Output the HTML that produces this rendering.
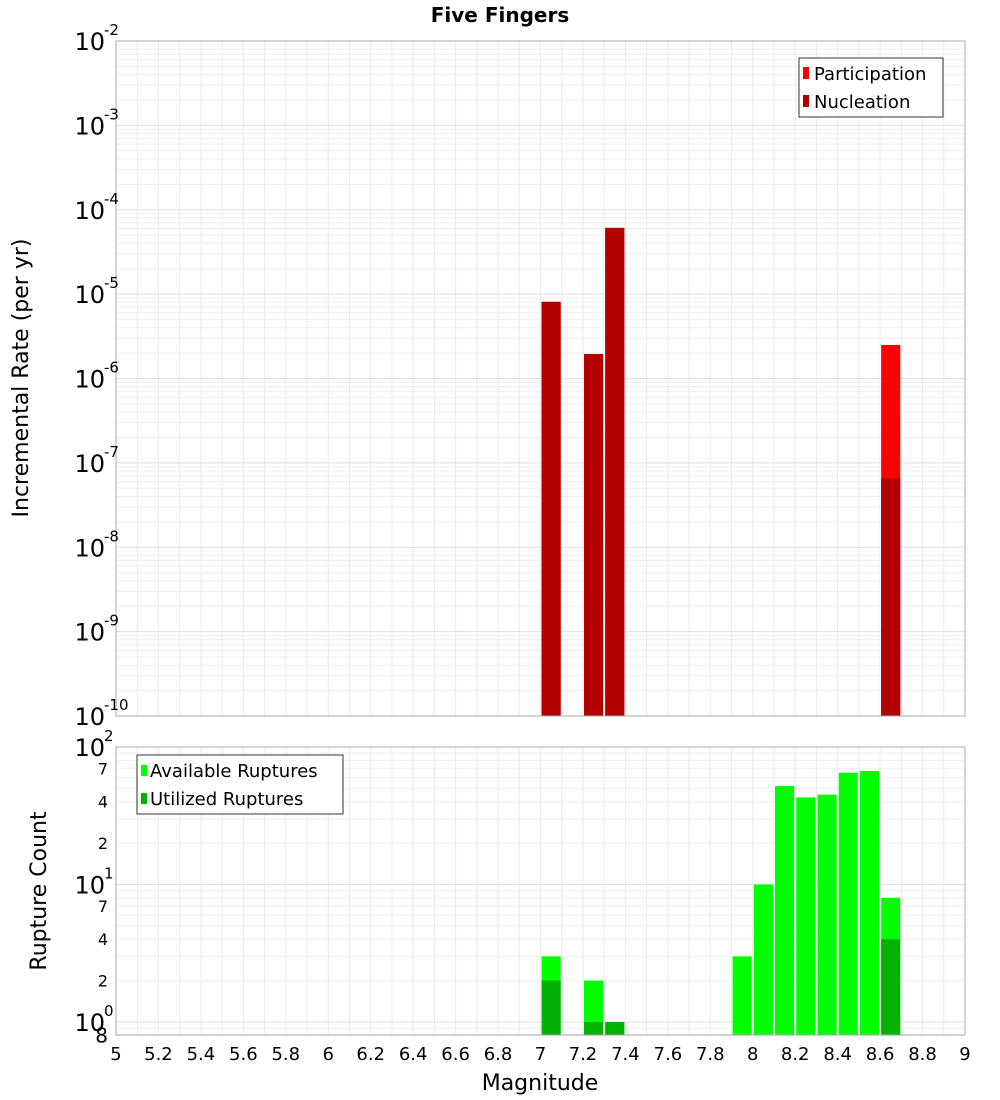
<!DOCTYPE html>
<html><head><meta charset="utf-8"><style>
body{margin:0;background:#fff;}
svg{display:block;font-family:"DejaVu Sans","Liberation Sans",sans-serif;}
</style></head><body>
<svg id="chart" width="1000" height="1100">
<text x="500" y="22" text-anchor="middle" font-size="20" font-weight="bold">Five Fingers</text>
<g id="grid"></g><g id="bars"></g><g id="axes"></g>
<text transform="translate(28,378) rotate(-90)" text-anchor="middle" font-size="22">Incremental Rate (per yr)</text>
<text transform="translate(46,891) rotate(-90)" text-anchor="middle" font-size="22">Rupture Count</text>
<text x="540" y="1090" text-anchor="middle" font-size="22">Magnitude</text>
<g>
<rect x="799" y="58" width="144" height="59" fill="#fff" stroke="#333"/>
<rect x="803" y="67" width="6" height="12" fill="#ff0000"/>
<text x="814" y="80" font-size="18">Participation</text>
<rect x="803" y="95" width="6" height="12" fill="#b30000"/>
<text x="814" y="108" font-size="18">Nucleation</text>
</g>
<g>
<rect x="137" y="755" width="206" height="59" fill="#fff" stroke="#333"/>
<rect x="141" y="765" width="6" height="11" fill="#00ff00"/>
<text x="150" y="777" font-size="18">Available Ruptures</text>
<rect x="141" y="793" width="6" height="11" fill="#00b300"/>
<text x="150" y="805" font-size="18">Utilized Ruptures</text>
</g>
</svg>
<script>
const mags=[7.05,7.25,7.35,8.65];
const participation=[8.1e-6,1.95e-6,6.1e-5,2.5e-6];
const nucleation=[8.1e-6,1.95e-6,6.1e-5,6.6e-8];
const rupMags=[7.05,7.25,7.35,7.95,8.05,8.15,8.25,8.35,8.45,8.55,8.65];
const available=[3,2,1,3,10,52,43,45,65,67,8];
const utilized=[2,1,1,0,0,0,0,0,0,0,4];
const xTicks=[5,5.2,5.4,5.6,5.8,6,6.2,6.4,6.6,6.8,7,7.2,7.4,7.6,7.8,8,8.2,8.4,8.6,8.8,9];
const topExps=[-2,-3,-4,-5,-6,-7,-8,-9,-10];
const botExps=[2,1,0];
const botMinorLabels=[2,4,7];

const NS="http://www.w3.org/2000/svg";
const L=116,R=965,T1=41,B1=716,T2=747,B2=1035;
const x=m=>L+(m-5)/4*(R-L);
const y1=v=>T1+(-2-Math.log10(v))*(B1-T1)/8;
const y2=v=>1022-Math.log10(v)*137.5;
function mk(tag,attrs,parent,txt){const e=document.createElementNS(NS,tag);for(const k in attrs)e.setAttribute(k,attrs[k]);if(txt!==undefined)e.textContent=txt;document.getElementById(parent).appendChild(e);return e;}

// plot backgrounds & grid
for(const [t,b] of [[T1,B1],[T2,B2]]){
  for(let m=5;m<=9.001;m+=0.1){const g=mk('line',{x1:x(m),x2:x(m),y1:t,y2:b,stroke:'#ececec'},'grid');}
}
for(let e=-10;e<-2;e++)for(let k=1;k<10;k++){const v=k*Math.pow(10,e);const yy=y1(v);const g=mk('line',{x1:L,x2:R,y1:yy,y2:yy,stroke:k==1?'#e0e0e0':'#efefef'},'grid');}
for(let e=-1;e<2;e++)for(let k=1;k<10;k++){const v=k*Math.pow(10,e);if(v<0.8)continue;const yy=y2(v);const g=mk('line',{x1:L,x2:R,y1:yy,y2:yy,stroke:k==1?'#e0e0e0':'#efefef'},'grid');}

// bars
const bw=x(5.09)-x(5);
mags.forEach((m,i)=>{
  let r=mk('rect',{x:x(m)-bw/2,y:y1(participation[i]),width:bw,height:B1-y1(participation[i]),fill:'#ff0000'},'bars');
  
  r=mk('rect',{x:x(m)-bw/2,y:y1(nucleation[i]),width:bw,height:B1-y1(nucleation[i]),fill:'#b30000'},'bars');
  
});
rupMags.forEach((m,i)=>{
  let r=mk('rect',{x:x(m)-bw/2,y:y2(available[i]),width:bw,height:B2-y2(available[i]),fill:'#00ff00'},'bars');
  
  if(utilized[i]>0){r=mk('rect',{x:x(m)-bw/2,y:y2(utilized[i]),width:bw,height:B2-y2(utilized[i]),fill:'#00b300'},'bars');
  }
});

// axes frames
let f=mk('rect',{x:L,y:T1,width:R-L,height:B1-T1,fill:'none',stroke:'#aaa'},'axes');
f=mk('rect',{x:L,y:T2,width:R-L,height:B2-T2,fill:'none',stroke:'#aaa'},'axes');

// x tick labels
xTicks.forEach(t=>{const e=mk('text',{x:x(t),y:1060,'text-anchor':'middle','font-size':18},'axes',String(t));});
// top y labels
topExps.forEach(e=>{const yy=y1(Math.pow(10,e));
  const t=mk('text',{x:105,y:yy+9,'text-anchor':'end','font-size':24},'axes','10');
  const s=mk('text',{x:104,y:yy-6,'font-size':15},'axes',String(e));});
botExps.forEach(e=>{const yy=y2(Math.pow(10,e));
  const t=mk('text',{x:105,y:yy+9,'text-anchor':'end','font-size':24},'axes','10');
  const s=mk('text',{x:104,y:yy-6,'font-size':15},'axes',String(e));});
[1,10].forEach(d=>botMinorLabels.forEach(k=>{const yy=y2(k*d);const t=mk('text',{x:108,y:yy+6,'text-anchor':'end','font-size':16},'axes',String(k));}));
const m8=mk('text',{x:108,y:y2(0.8)+7,'text-anchor':'end','font-size':20},'axes','8');
</script>
</body></html>
